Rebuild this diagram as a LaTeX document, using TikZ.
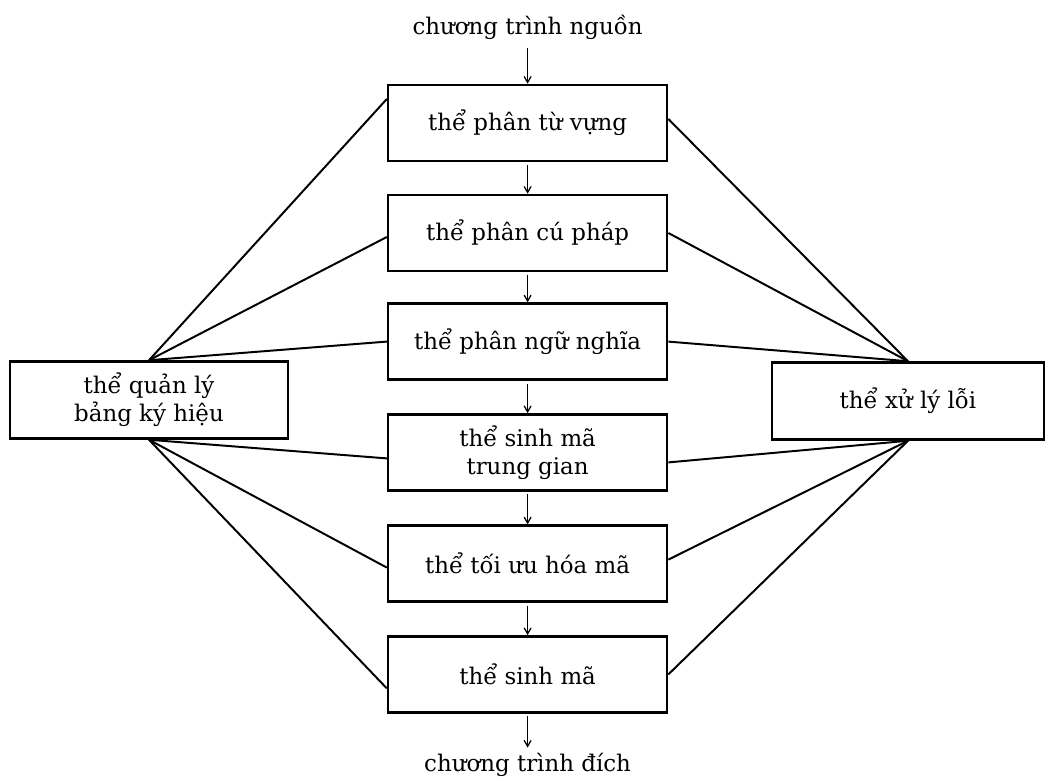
\documentclass[tikz,border=0pt]{standalone}
\usepackage{fontspec}
\setmainfont{DejaVu Serif}
\usepackage{tikz}
\usetikzlibrary{arrows,positioning}

\begin{document}
\begin{tikzpicture}[>=angle 60, line width=1.4pt,
    phase/.style={draw, rectangle, line width=1.8pt, minimum width=6.975cm, minimum height=1.9cm, align=center, font=\fontsize{16.3}{20}\selectfont},
    side/.style={phase, minimum height=1.925cm},
    label/.style={font=\fontsize{16.3}{20}\selectfont},
    flow/.style={->, line width=0.9pt, shorten <=2pt}]
        \useasboundingbox (0,0) rectangle (26.15,-19.525);
        % Source and target texts
        \node[label] (src) at (13.19,-0.675) {chương trình nguồn};
        \node[label] (dst) at (13.19,-19.125) {chương trình đích};

        % Phases of the compiler, top to bottom
        \node[phase] (lex) at (13.19,-3.075) {thể phân từ vựng};
        \node[phase] (syn) at (13.19,-5.825) {thể phân cú pháp};
        \node[phase] (sem) at (13.19,-8.54) {thể phân ngữ nghĩa};
        \node[phase] (icg) at (13.19,-11.31) {thể sinh mã\\trung gian};
        \node[phase] (opt) at (13.19,-14.09) {thể tối ưu hóa mã};
        \node[phase] (gen) at (13.19,-16.86) {thể sinh mã};

        % Side managers
        \node[side, minimum width=6.95cm] (tab) at (3.725,-10.0) {thể quản lý\\bảng ký hiệu};
        \node[side, minimum width=6.8cm] (err) at (22.7,-10.025) {thể xử lý lỗi};

        % Main flow
        \draw[flow] (src) -- (lex);
        \draw[flow] (lex) -- (syn);
        \draw[flow] (syn) -- (sem);
        \draw[flow] (sem) -- (icg);
        \draw[flow] (icg) -- (opt);
        \draw[flow] (opt) -- (gen);
        \draw[flow] (gen) -- (dst);

        % Links to the symbol table
        \draw (tab.north) -- ([yshift=0.6cm]lex.west);
        \draw (tab.north) -- ([yshift=-0.1cm]syn.west);
        \draw (tab.north) -- (sem.west);
        \draw (tab.south) -- ([yshift=-0.15cm]icg.west);
        \draw (tab.south) -- ([yshift=-0.1cm]opt.west);
        \draw (tab.south) -- ([yshift=-0.35cm]gen.west);

        % Links to the error handler
        \draw (err.north) -- ([yshift=0.1cm]lex.east);
        \draw (err.north) -- (syn.east);
        \draw (err.north) -- (sem.east);
        \draw (err.south) -- ([yshift=-0.25cm]icg.east);
        \draw (err.south) -- ([yshift=0.1cm]opt.east);
        \draw (err.south) -- (gen.east);
    \end{tikzpicture}
\end{document}
